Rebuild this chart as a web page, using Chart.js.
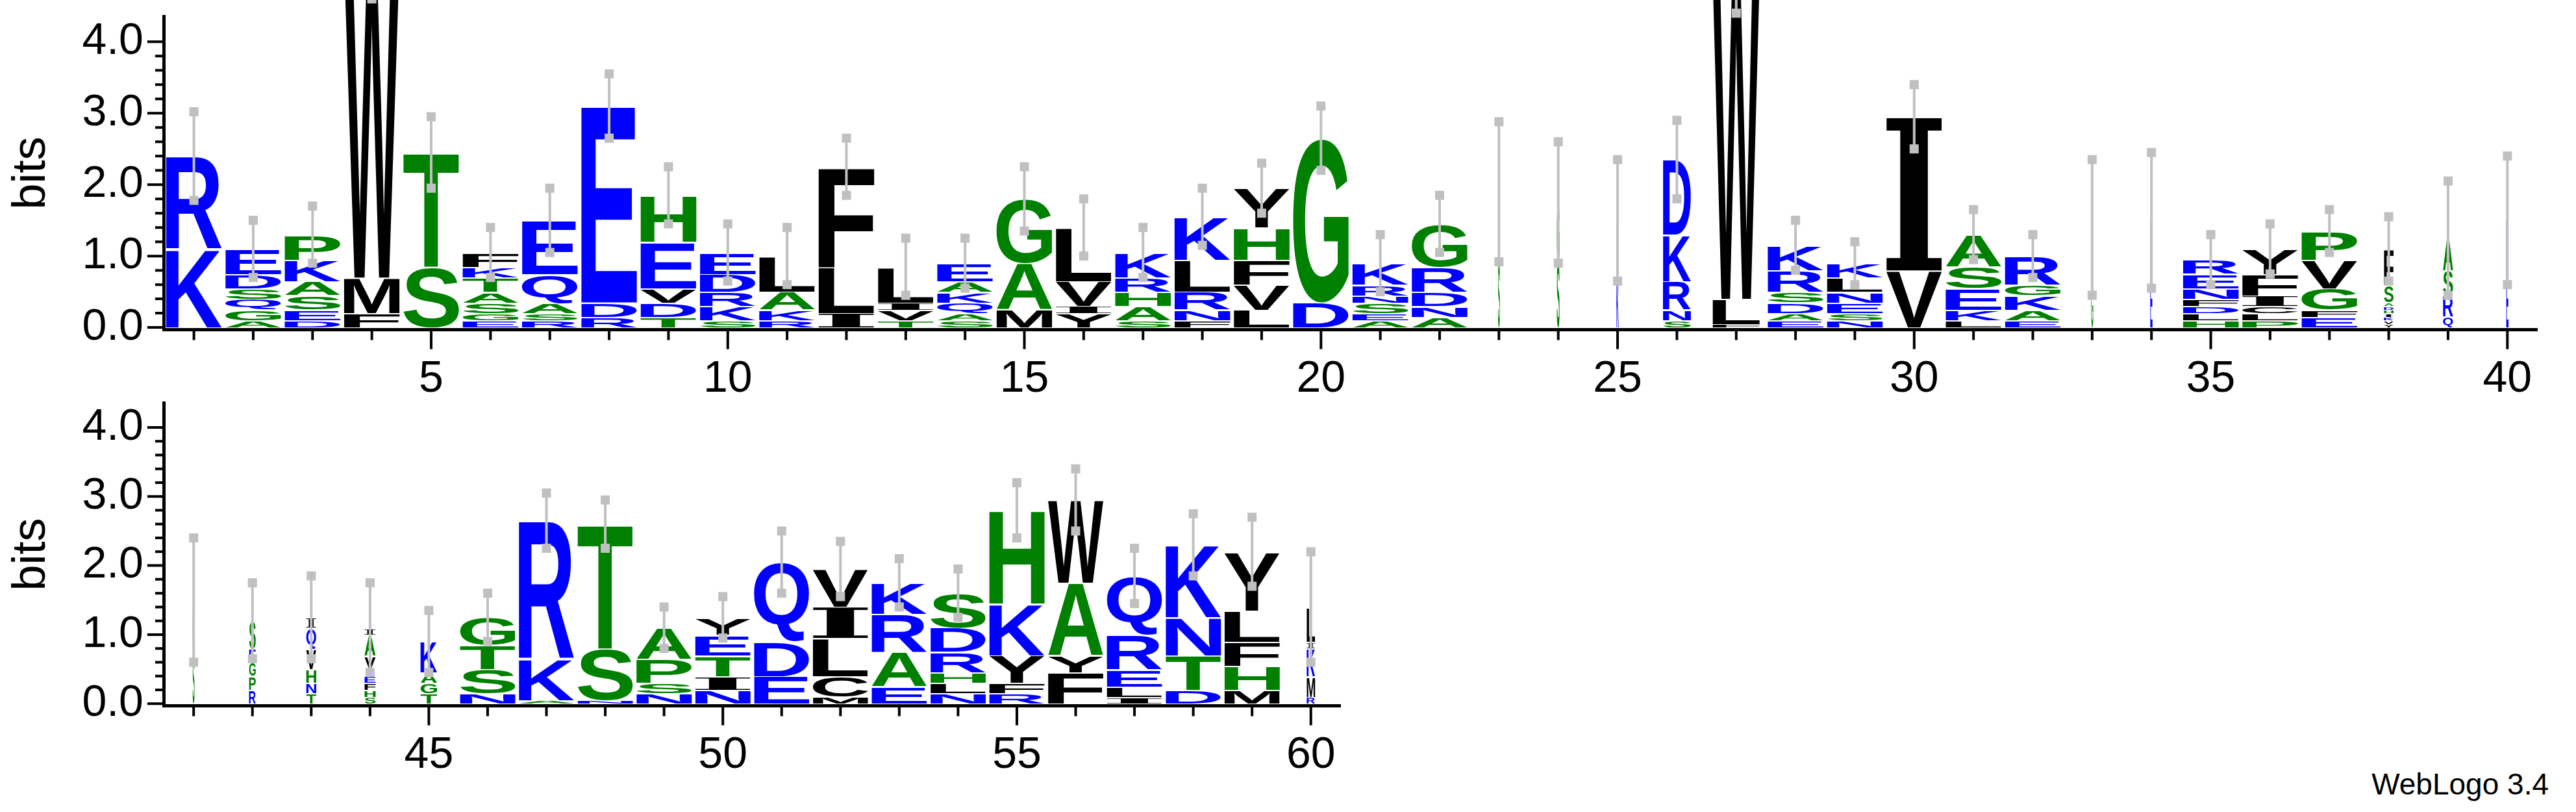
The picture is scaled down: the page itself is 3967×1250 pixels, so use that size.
<!DOCTYPE html>
<html><head><meta charset="utf-8">
<script src="https://cdn.jsdelivr.net/npm/chart.js@4"></script>
<style>
body{margin:0;background:#fff;width:3967px;height:1250px;position:relative;overflow:hidden;font-family:"Liberation Sans",Arial,sans-serif}
.box{position:absolute}
#credit{position:absolute;right:42px;top:1180px;font-size:46px;color:#000}
</style></head><body>
<div class="box" style="left:0;top:-47px;width:3967px;height:718px"><canvas id="top"></canvas></div>
<div class="box" style="left:0;top:548px;width:2124px;height:702px"><canvas id="bottom"></canvas></div>
<div id="credit">WebLogo 3.4</div>
<script>
// letter stacks, bottom to top: letter + height in bits
const positions = [];
for (let i = 1; i <= 60; i++) positions.push(i);

const stacks = [
  "K1.1 R1.3", "A.1 G.15 Q.15 S.15 D.2 E.35", "D.1 E.15 S.2 A.2 K.3 P.35", "F.2 M.5 W4.5", "S.85 T1.6",
  "E.1 G.1 S.15 A.15 T.2 K.15 F.2", "R.1 S.1 A.15 Q.4 E.75", "R.15 D.2 E2.75", "T.15 D.2 V.2 E.65 H.65", "S.1 K.2 R.2 D.25 E.3",
  "R.1 K.15 A.25 L.5", "I.2 L.65 F1.4", "T.1 V.15 I.1 L.5", "S.1 A.1 Q.15 K.15 A.15 E.25", "M.25 A.65 G.9",
  "Y.2 I.1 V.35 L.75", "S.1 A.2 H.2 R.2 K.35", "F.1 N.15 R.25 L.45 K.6", "L.25 V.35 F.35 H.45 Y.55", "D.35 G2.3",
  "A.1 E.1 S.15 N.1 R.15 K.3", "A.15 N.15 D.2 R.35 G.6", "S.9 A1.0", "S.9 G.85", "K.7 E.8",
  "S.1 N.15 R.4 K.65 D1.05", "F.05 L.35 W4.6", "E.1 A.1 D.15 S.15 R.3 K.35", "N.1 S.1 E.15 N.15 L.2 K.2", "V.8 I2.15",
  "L.1 K.15 E.3 S.3 A.45", "E.1 A.15 K.2 G.15 R.4", "G.6 A.8", "E.7 K.8", "H.1 L.1 D.1 F.1 N.15 E.2 R.2",
  "P.1 L.1 C.1 I.15 F.3 Y.35", "E.15 F.1 G.3 V.4 P.4", "Y.05 V.05 K.05 I.05 H.05 D.05 A.05 S.25 F.5", "Q.15 R.3 S.35 A.45", "E.7 K.8",
  "S.7 G.8", "R.2 P.2 G.2 E.2 S.4", "T.15 N.15 H.2 V.3 Q.3 I.15", "S.1 H.1 F.1 E.1 Y.3 A.3 I.1", "T.15 G.15 A.15 K.45",
  "N.15 S.35 T.35 G.4", "A.05 K.6 R2.0", "N.05 S.75 T1.8", "N.15 S.15 P.35 A.45", "N.2 I.2 T.3 E.3 Y.25",
  "E.4 D.5 Q1.15", "M.1 C.3 L.55 I.45 V.55", "E.25 A.5 R.55 K.45", "N.15 L.15 H.15 R.3 D.35 S.5", "R.15 F.15 Y.4 K.75 H1.35",
  "F.45 Y.25 A1.05 W1.2", "I.1 L.15 E.25 R.5 Q.85", "D.2 T.5 N.55 K1.05", "M.2 H.35 F.35 L.45 Y.85", "R.1 M.3 K.4 I.1 L.5"
];

// relative stack width (column occupancy)
const stackWidths = [
  1,1,1,1,1, 1,1,1,1,1, 1,1,1,1,1, 1,1,1,1,1,
  1,1,.03,.05,.04, .5,.85,1,1,1, 1,1,.03,.04,1, 1,1,.17,.18,.04,
  .03,.12,.18,.2,.3, 1,1,1,1,1, 1,1,1,1,1, 1,1,1,1,.15
];

// half height of the error bars in bits
const errorBars = [
  .62,.4,.4,.6,.5, .35,.45,.45,.4,.4, .4,.4,.4,.35,.45, .4,.35,.4,.35,.45,
  .4,.4,.98,.85,.85, .55,.6,.35,.3,.45, .35,.3,.95,.95,.35, .35,.3,.45,.8,.9,
  .9,.55,.6,.65,.45, .35,.4,.35,.3,.3, .45,.4,.35,.35,.4, .45,.4,.45,.5,.8
];

const yTicks = [0, 1, 2, 3, 4];

const colorOf = l => "RKDENQ".includes(l) ? "#0000ff" : ("SGHTAP".includes(l) ? "#008000" : "#000000");

function parseStack(s) {
  return s.split(" ").map(t => [t[0], parseFloat(t.slice(1))]);
}
const totals = stacks.map(s => parseStack(s).reduce((a, b) => a + b[1], 0));

const logoPlugin = {
  id: "logo",
  afterDatasetsDraw(chart) {
    const ctx = chart.ctx, xs = chart.scales.x, ys = chart.scales.y, area = chart.chartArea;
    ctx.save();
    ctx.beginPath();
    ctx.rect(area.left, 0, area.right - area.left, area.bottom);
    ctx.clip();
    chart.data.datasets[0].data.forEach(pt => {
      const i = pt.x - 1;
      const full = xs.getPixelForValue(pt.x + 0.5) - xs.getPixelForValue(pt.x - 0.5);
      const w = Math.max(3, full * 0.94 * stackWidths[i]);
      const x0 = xs.getPixelForValue(pt.x) - w / 2;
      let cum = 0;
      parseStack(stacks[i]).forEach(([l, h]) => {
        const yb = ys.getPixelForValue(cum);
        const yt = ys.getPixelForValue(cum + h);
        cum += h;
        ctx.save();
        ctx.font = l === "I" ? 'bold 200px "DejaVu Serif"' : 'bold 200px "Liberation Sans"';
        ctx.textBaseline = "alphabetic";
        const m = ctx.measureText(l);
        const gw = m.actualBoundingBoxLeft + m.actualBoundingBoxRight;
        const gh = m.actualBoundingBoxAscent + m.actualBoundingBoxDescent;
        ctx.translate(x0, yb);
        ctx.scale(w / gw, (yb - yt - 2) / gh);
        ctx.fillStyle = colorOf(l);
        ctx.fillText(l, m.actualBoundingBoxLeft, -m.actualBoundingBoxDescent);
        ctx.restore();
      });
      // error bar
      const e = errorBars[i];
      const xc = xs.getPixelForValue(pt.x);
      const y1 = ys.getPixelForValue(Math.max(0, cum - e)), y2 = ys.getPixelForValue(cum + e);
      ctx.strokeStyle = "#c0c0c0";
      ctx.fillStyle = "#c0c0c0";
      ctx.lineWidth = 4;
      ctx.beginPath();
      ctx.moveTo(xc, y1); ctx.lineTo(xc, y2);
      ctx.stroke();
      ctx.fillRect(xc - 7, y1 - 7, 14, 14);
      ctx.fillRect(xc - 7, y2 - 7, 14, 14);
    });
    ctx.restore();
  },
  afterDraw(chart) {
    const ctx = chart.ctx, xs = chart.scales.x, ys = chart.scales.y, area = chart.chartArea;
    ctx.save();
    ctx.strokeStyle = "#000";
    ctx.lineWidth = 4;
    ctx.beginPath();
    for (let k = 0; k <= 20; k++) {
      const y = ys.getPixelForValue(k * 0.2);
      ctx.moveTo(area.left, y); ctx.lineTo(area.left - (k % 5 === 0 ? 26 : 14), y);
    }
    for (let p = Math.ceil(xs.min); p <= xs.max; p++) {
      const x = xs.getPixelForValue(p);
      ctx.moveTo(x, area.bottom); ctx.lineTo(x, area.bottom + (p % 5 === 0 ? 30 : 16));
    }
    ctx.stroke();
    ctx.restore();
  }
};

function makeLogo(canvasId, from, to) {
  const pts = [];
  for (let p = from; p <= to; p++) pts.push({x: p, y: totals[p - 1]});
  return new Chart(document.getElementById(canvasId), {
    type: "scatter",
    data: {datasets: [{data: pts, pointRadius: 0, showLine: false}]},
    options: {
      responsive: true, maintainAspectRatio: false, animation: false,
      layout: {padding: {top: 10, right: 60, left: 4, bottom: 10}},
      plugins: {legend: {display: false}, tooltip: {enabled: false}},
      scales: {
        x: {
          type: "linear", min: from - 0.5, max: to + 0.5,
          afterBuildTicks: s => { s.ticks = []; for (let p = from; p <= to; p++) s.ticks.push({value: p}); },
          ticks: {callback: v => (v % 5 === 0 ? String(v) : ""), autoSkip: false, maxRotation: 0,
                  font: {size: 68, family: "Liberation Sans"}, color: "#000", padding: 36},
          grid: {display: false, drawOnChartArea: false, drawTicks: false},
          border: {color: "#000", width: 5}
        },
        y: {
          min: -0.03, max: 4.35,
          afterBuildTicks: s => { s.ticks = yTicks.map(v => ({value: v})); },
          ticks: {callback: v => v.toFixed(1), autoSkip: false,
                  font: {size: 68, family: "Liberation Sans"}, color: "#000", padding: 32},
          grid: {display: false, drawOnChartArea: false, drawTicks: false},
          border: {color: "#000", width: 5},
          title: {display: true, text: "bits", font: {size: 72, family: "Liberation Sans"}, color: "#000", padding: 2}
        }
      }
    },
    plugins: [logoPlugin]
  });
}

makeLogo("top", 1, 40);
makeLogo("bottom", 41, 60);
</script>
</body></html>
